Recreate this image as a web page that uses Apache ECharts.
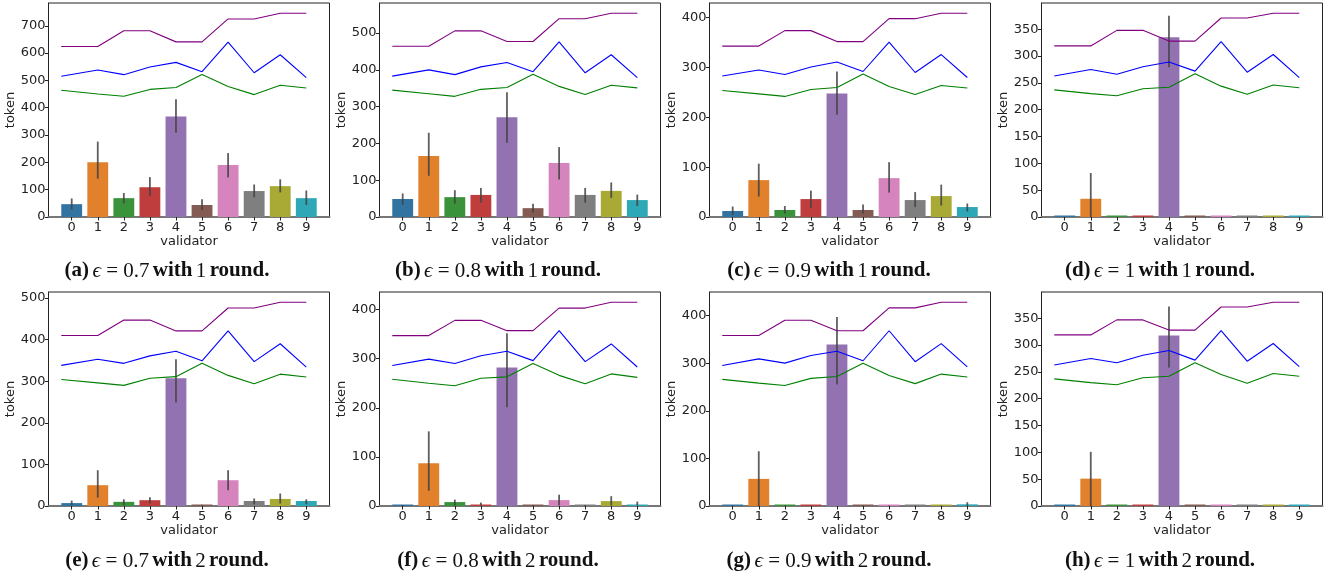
<!DOCTYPE html>
<html><head><meta charset="utf-8">
<script src="https://cdn.jsdelivr.net/npm/echarts@6/dist/echarts.min.js"></script>
<style>html,body{margin:0;padding:0;background:#fff}#c{width:1340px;height:580px}</style>
</head><body><div id="c"></div>
<script>
// ---------------- data ----------------
const validators = ['0','1','2','3','4','5','6','7','8','9'];
const panelLetters = ['a','b','c','d','e','f','g','h'];
const epsilons = ['0.7','0.8','0.9','1','0.7','0.8','0.9','1'];
const rounds = ['1','1','1','1','2','2','2','2'];
const yTickStep = [100,100,100,50,100,100,100,50];
const lineX = [-0.4,1,2,3,4,5,6,7,8,9];

const barMeans = [
  [47,200,69,109,368,44,190,95,113,69],
  [49,166,54,60,271,24,147,60,71,46],
  [12,74,14,36,248,14,78,34,42,20],
  [0,34,0,0,335,0,0,0,0,0],
  [7,50,10,14,307,2,62,12,17,12],
  [1,87,8,3,282,1,12,1,10,3],
  [0.5,57,0.5,0.5,339,0.5,0.5,0.5,0.5,3.5],
  [0,51,0,0,318,0,0,0,0,0]
];
const errLow = [
  [28,140,50,77,308,26,145,72,90,44],
  [33,112,36,39,202,12,102,39,52,30],
  [4,41,7,18,205,7,49,20,23,11],
  [0,0,0,0,279,0,0,0,0,0],
  [2,20,2,6,249,1,38,4,6,4],
  [0,31,1,1,201,0,1,0,1,1],
  [0,0,0,0,255,0,0,0,0,0],
  [0,0,0,0,258,0,0,0,0,0]
];
const errHigh = [
  [68,276,88,146,431,65,234,119,138,97],
  [64,229,73,79,339,36,190,79,94,61],
  [21,107,22,53,292,25,110,50,65,27],
  [0,82,0,0,375,0,0,0,0,0],
  [13,86,16,21,353,3,86,18,30,16],
  [2,152,13,7,352,2,23,2,20,9],
  [1,115,1,1,397,1,1,1,1,8],
  [0,101,0,0,372,0,0,0,0,0]
];
const purpleLine = [
  [624,624,682,682,641,641,725,725,746,746],
  [464,464,506,506,477,477,539,539,554,554],
  [343,343,374,374,352,352,398,398,409,409],
  [319,319,348,348,328,328,371,371,380,380],
  [410,410,447,447,421,421,476,476,490,490],
  [347,347,378,378,357,357,403,403,415,415],
  [358,358,390,390,368,368,416,416,428,428],
  [319,319,347,347,328,328,371,371,380,380]
];
const blueLine = [
  [515,538,521,549,566,532,640,528,594,510],
  [383,400,387,408,420,395,476,392,441,379],
  [283,295,286,301,311,292,351,290,326,280],
  [263,275,266,280,289,272,327,270,303,260],
  [338,353,343,361,372,349,421,347,390,334],
  [286,299,290,306,315,296,357,294,330,283],
  [295,309,300,316,325,305,368,303,341,292],
  [263,275,267,281,290,272,327,270,303,260]
];
const greenLine = [
  [464,450,442,467,474,522,478,448,482,472],
  [345,335,328,347,352,388,355,333,358,351],
  [254,247,242,256,260,287,262,246,264,259],
  [237,230,226,239,242,267,244,229,246,241],
  [304,296,290,307,311,343,314,294,317,310],
  [258,250,245,260,263,290,266,249,269,262],
  [266,258,253,268,272,300,274,257,277,271],
  [237,230,226,239,242,267,245,229,247,242]
];

// ---------------- style ----------------
const barColors = ['#3274a1','#e1812c','#3a923a','#c03d3e','#9372b2','#845b53','#d684bd','#7f7f7f','#a9aa35','#2ea8b6'];
const colLeft = [48.5, 379.5, 709.5, 1041.5];
const rowTop = [3, 292];
const gridW = 281;
const gridH = 214;
const capCenter = [167, 498, 829, 1160];
const capY = [271, 561];

const chart = echarts.init(document.getElementById('c'), null, {renderer: 'canvas'});
const grid = [], xAxis = [], yAxis = [], series = [], graphic = [];

for (let p = 0; p < 8; p++) {
  const col = p % 4, row = Math.floor(p / 4);
  const allVals = purpleLine[p].concat(blueLine[p], greenLine[p], errHigh[p], barMeans[p]);
  const ymax = Math.max(...allVals) * 1.05;
  const yTicks = [];
  for (let t = 0; t <= ymax; t += yTickStep[p]) yTicks.push(t);
  const xTicks = validators.map(Number);

  grid.push({left: colLeft[col], top: rowTop[row], width: gridW, height: gridH,
    show: true, borderColor: '#222', borderWidth: 1, backgroundColor: 'transparent'});
  xAxis.push({type: 'value', gridIndex: p, min: -0.89, max: 9.89,
    name: 'validator', nameLocation: 'middle', nameGap: 16,
    nameTextStyle: {fontFamily: 'DejaVu Sans', fontSize: 13, color: '#222'},
    axisLine: {show: true, onZero: false, lineStyle: {color: '#777', width: 2}},
    axisTick: {show: true, length: 3.5, lineStyle: {color: '#222'}, customValues: xTicks},
    axisLabel: {show: true, margin: 4, fontFamily: 'DejaVu Sans', fontSize: 13, color: '#222',
      customValues: xTicks, formatter: v => validators[Math.round(v)]},
    splitLine: {show: false}});
  yAxis.push({type: 'value', gridIndex: p, min: 0, max: ymax,
    name: 'token', nameLocation: 'middle', nameGap: 28, nameRotate: 90,
    nameTextStyle: {fontFamily: 'DejaVu Sans', fontSize: 13, color: '#222'},
    axisLine: {show: true, onZero: false, lineStyle: {color: '#222', width: 1}},
    axisTick: {show: true, length: 3.5, lineStyle: {color: '#222'}, customValues: yTicks},
    axisLabel: {show: true, margin: 3, fontFamily: 'DejaVu Sans', fontSize: 13, color: '#222',
      customValues: yTicks},
    splitLine: {show: false}});

  // bars
  series.push({type: 'custom', xAxisIndex: p, yAxisIndex: p, z: 2, silent: true,
    data: barMeans[p].map((v, i) => [i, v]),
    renderItem: (params, api) => {
      const i = api.value(0), v = api.value(1);
      const a = api.coord([i - 0.4, 0]);
      const b = api.coord([i + 0.4, v]);
      let h = a[1] - b[1];
      if (h < 1.5) h = 1.5;
      return {type: 'rect', shape: {x: a[0], y: a[1] - h, width: b[0] - a[0], height: h},
        style: {fill: barColors[i]}};
    }});
  // error bars
  series.push({type: 'custom', xAxisIndex: p, yAxisIndex: p, z: 3, silent: true,
    data: barMeans[p].map((v, i) => [i, errLow[p][i], errHigh[p][i]]),
    renderItem: (params, api) => {
      const i = api.value(0), lo = api.value(1), hi = api.value(2);
      if (hi - lo <= 0) return null;
      const a = api.coord([i, lo]);
      const b = api.coord([i, hi]);
      return {type: 'line', shape: {x1: a[0], y1: a[1], x2: b[0], y2: b[1]},
        style: {stroke: '#424242', lineWidth: 1.8, opacity: 0.85}};
    }});
  // lines
  [[purpleLine, '#800080'], [blueLine, '#0000ff'], [greenLine, '#008000']].forEach(([arr, c]) => {
    series.push({type: 'line', xAxisIndex: p, yAxisIndex: p, z: 4, silent: true,
      data: lineX.map((x, k) => [x, arr[p][k]]), showSymbol: false, symbol: 'none',
      lineStyle: {color: c, width: 1.1}, animation: false});
  });

  // caption
  graphic.push({type: 'text', x: capCenter[col], y: capY[row], silent: true,
    style: {
      text: '{b|(' + panelLetters[p] + ')} {i|ϵ}{r| = ' + epsilons[p] + '} {b|with} {r|' + rounds[p] + '} {b|round.}',
      align: 'center', verticalAlign: 'middle',
      rich: {
        b: {fontFamily: 'Liberation Serif', fontWeight: 'bold', fontSize: 21, fill: '#111'},
        i: {fontFamily: 'Liberation Serif', fontStyle: 'italic', fontSize: 21, fill: '#111'},
        r: {fontFamily: 'Liberation Serif', fontSize: 21, fill: '#111'}
      }
    }});
}

chart.setOption({animation: false, grid, xAxis, yAxis, series, graphic});
</script>
</body></html>
